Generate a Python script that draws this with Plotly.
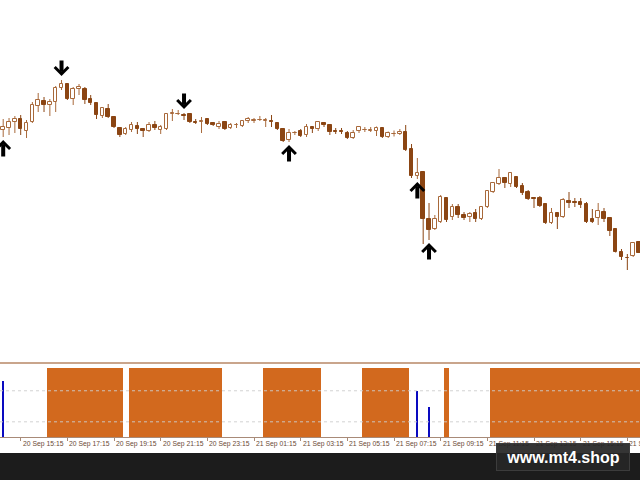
import plotly.graph_objects as go

# ---------------- data (M15 bars, index 0 = 20 Sep 14:30) ----------------
opens = [270, 272, 278, 281, 269, 278, 294, 299, 295, 298,
         312, 316, 301, 311, 311, 301, 297, 284, 291, 283,
         272, 266, 270, 274, 271, 269, 275, 270, 271, 286,
         286, 285, 286, 278, 278, 281, 277, 273, 278, 272,
         275, 274, 279, 279.5, 280, 279, 279, 277, 271, 260,
         267, 269, 265, 273, 271, 277, 275, 269, 269, 267,
         262, 269, 270, 269.5, 269, 272, 263, 266, 266, 268,
         251, 224, 228, 181, 171, 178, 202, 183, 193, 185,
         183, 187, 181, 193, 208, 216, 222, 216, 223, 214,
         208, 202, 202, 196, 177, 187, 183, 199, 198, 198,
         196, 181, 182, 188, 182, 171, 148, 142.5, 144, 158]
highs = [281, 282, 284, 285, 280, 298, 307, 303, 301, 314,
         320, 317, 313, 316, 313, 305, 298, 293, 296, 284,
         273, 273, 278, 278, 272, 278, 279, 275, 287, 291,
         290, 287, 287, 281, 283, 282, 278, 279, 278.5, 277,
         277, 280, 283, 282, 284, 282, 285, 278, 272, 271,
         269, 271, 276, 274, 279, 278, 276, 272, 272, 269,
         270, 274, 273, 273, 273.5, 273, 268.5, 269.5, 271, 275,
         256, 242, 229, 197, 185, 205, 203, 196, 196, 188,
         188, 191, 193.5, 210, 218, 231, 223, 228, 224, 217,
         210, 202.5, 204, 197, 192, 188, 202, 208, 202, 202,
         198, 191, 197, 192, 183, 172, 151, 146, 158, 159]
lows = [263, 265, 267, 265, 262, 277, 288, 288, 284, 288,
        310, 300, 295, 305, 296, 295, 281, 282, 282, 272,
        263, 265, 268, 266, 263, 268, 270, 266, 270, 279,
        285, 280, 277, 276, 267, 275, 274, 271, 270, 271,
        272, 273, 277, 277, 279, 273, 273, 270, 258, 258,
        265, 263, 263, 267, 269, 273, 265, 266, 266, 261,
        261, 267, 268, 268, 264, 262, 262, 263.5, 265, 249,
        222, 221, 156, 160, 170, 177, 178, 180, 182, 180,
        178, 178, 180, 192, 207, 215, 212, 213, 212, 205,
        200, 192, 193, 176, 176, 171, 182, 192, 193, 192,
        177, 177, 175, 178, 164, 147.5, 140, 130, 143, 147]
closes = [273, 278, 281, 271, 277, 295, 300, 295, 298, 312,
          316, 301, 311, 313, 300, 297, 285, 292, 283, 273,
          265, 271, 275, 271, 269, 275, 272, 273, 286, 287,
          286.5, 284.5, 278, 277, 279, 276, 275, 276, 271, 275,
          275.5, 279, 281, 280, 280.5, 280, 278.5, 271, 259, 267,
          267.5, 264, 273, 271, 278, 275, 268, 268.5, 268.5, 262,
          267, 273, 270.5, 270, 272, 263, 267, 266.5, 268.5, 250,
          224, 227, 181, 170, 181, 203, 180, 193, 185, 182,
          186, 181, 193, 209, 217, 222, 217, 227, 213, 207,
          201, 201, 194, 177, 187, 183, 200, 197, 197.5, 195,
          178, 178, 189, 181, 169, 148, 143, 142, 157, 147]

up_signals = [0, 49, 71, 73]
down_signals = [10, 31]

trend_flag = [0] * 8 + [1] * 13 + [0] + [1] * 16 + [0] * 7 + [1] * 10 + \
             [0] * 7 + [1] * 8 + [0] * 6 + [1] + [0] * 7 + [1] * 26
signal_bars = [0, 71, 73]
signal_values = [0.81, 0.66, 0.44]
levels = [0.22, 0.67]

tick_bars = [-5, 3, 11, 19, 27, 35, 43, 51, 59, 67, 75, 83, 91, 99, 107]
tick_labels = ["20 Sep 13:15", "20 Sep 15:15", "20 Sep 17:15", "20 Sep 19:15",
               "20 Sep 21:15", "20 Sep 23:15", "21 Sep 01:15", "21 Sep 03:15",
               "21 Sep 05:15", "21 Sep 07:15", "21 Sep 09:15", "21 Sep 11:15",
               "21 Sep 13:15", "21 Sep 15:15", "21 Sep 17:15"]

# ---------------- styling ----------------
BEAR = "#8B4513"
BULL = "#A8693A"
ORANGE = "#D2691E"
BLUE = "#0A0AC0"
LABEL = "#6B4A35"

n = len(opens)
idx = list(range(n))
bull = [closes[i] >= opens[i] for i in idx]

fig = go.Figure()

# wicks (split so they never cross a hollow body)
for is_bull, col in ((True, BULL), (False, BEAR)):
    wx, wy = [], []
    for i in idx:
        if bull[i] != is_bull:
            continue
        top = max(opens[i], closes[i])
        bot = min(opens[i], closes[i])
        wx += [i, i, None, i, i, None]
        wy += [top, highs[i], None, bot, lows[i], None]
    fig.add_trace(go.Scatter(x=wx, y=wy, mode="lines",
                             line=dict(color=col, width=1),
                             hoverinfo="skip", xaxis="x", yaxis="y"))

# bodies
base = [min(opens[i], closes[i]) for i in idx]
height = [max(abs(closes[i] - opens[i]), 0.4) for i in idx]
fig.add_trace(go.Bar(x=idx, y=height, base=base, width=0.6,
                     marker=dict(color=["white" if b else BEAR for b in bull],
                                 line=dict(color=[BULL if b else BEAR for b in bull],
                                           width=1)),
                     xaxis="x", yaxis="y"))

# sub-window histogram
fig.add_trace(go.Bar(x=idx, y=trend_flag, width=1.0,
                     marker=dict(color=ORANGE, line=dict(width=0)),
                     xaxis="x2", yaxis="y2"))
fig.add_trace(go.Bar(x=signal_bars, y=signal_values, width=0.35,
                     marker=dict(color=BLUE, line=dict(width=0)),
                     xaxis="x2", yaxis="y2"))

xr = [-0.549, 109.17]

annotations = []
for k in up_signals:
    annotations.append(dict(x=k, y=lows[k], xref="x", yref="y", text="",
                            showarrow=True, arrowhead=4, arrowwidth=4,
                            arrowsize=0.66, arrowcolor="black",
                            ax=0, ay=21, standoff=3))
for k in down_signals:
    annotations.append(dict(x=k, y=highs[k], xref="x", yref="y", text="",
                            showarrow=True, arrowhead=4, arrowwidth=4,
                            arrowsize=0.66, arrowcolor="black",
                            ax=0, ay=-21, standoff=4))
for k, lab in zip(tick_bars, tick_labels):
    annotations.append(dict(x=k, y=0.075, xref="x2", yref="paper", text=lab,
                            showarrow=False, xanchor="left", yanchor="middle",
                            xshift=0,
                            font=dict(family="Liberation Sans", size=6.8,
                                      color=LABEL)))
annotations.append(dict(x=0.8797, y=0.0475, xref="paper", yref="paper",
                        text="<b>www.mt4.shop</b>", showarrow=False,
                        xanchor="center", yanchor="middle",
                        width=128, height=22, borderpad=2,
                        bgcolor="rgba(38,38,38,0.93)",
                        bordercolor="#3c3c3c", borderwidth=1,
                        font=dict(family="Liberation Sans", size=16,
                                  color="white")))

shapes = []
for lv in levels:
    shapes.append(dict(type="line", xref="paper", x0=0, x1=1, yref="y2",
                       y0=lv, y1=lv, layer="above",
                       line=dict(color="rgba(205,205,205,0.9)", width=1,
                                 dash="dot")))
shapes.append(dict(type="line", xref="paper", x0=0, x1=1, yref="paper",
                   y0=0.2438, y1=0.2438, layer="above",
                   line=dict(color="#C9A58C", width=2)))
shapes.append(dict(type="rect", xref="paper", x0=0, x1=1, yref="paper",
                   y0=0, y1=0.05625, layer="above", fillcolor="#1c1c1c",
                   line=dict(width=0)))

fig.update_layout(
    width=640, height=480,
    margin=dict(l=0, r=0, t=0, b=0),
    paper_bgcolor="white", plot_bgcolor="white",
    showlegend=False, bargap=0, barmode="overlay",
    xaxis=dict(domain=[0, 1], range=xr, visible=False, anchor="y"),
    yaxis=dict(domain=[0.25, 1], range=[40, 400], visible=False, anchor="x"),
    xaxis2=dict(domain=[0, 1], range=xr, anchor="y2", showline=True,
                linecolor="#A88A78", linewidth=1, ticks="outside", ticklen=3,
                tickcolor="#A88A78", tickvals=tick_bars, showticklabels=False,
                showgrid=False, zeroline=False),
    yaxis2=dict(domain=[0.0896, 0.2333], range=[0, 1], visible=False,
                anchor="x2"),
    annotations=annotations,
    shapes=shapes,
)

fig.write_html("out.html", config={"displayModeBar": False},
               post_script="document.body.style.margin='0';"
                           "document.body.style.overflow='hidden';")
